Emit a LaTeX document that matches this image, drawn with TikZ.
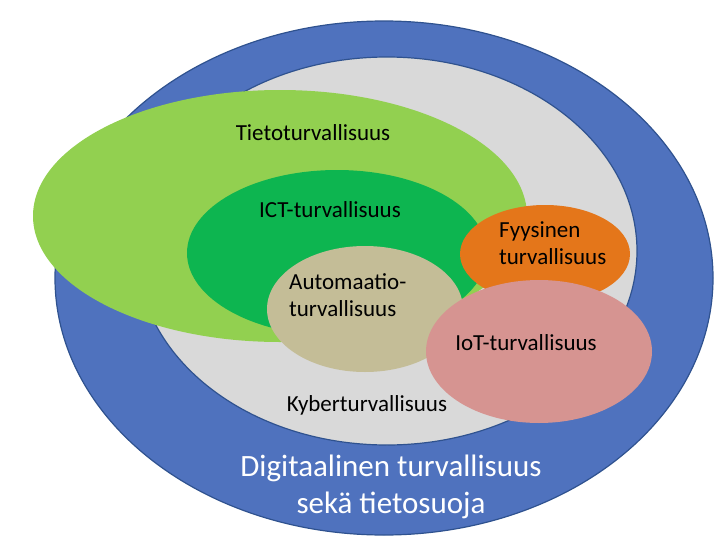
\documentclass[tikz,border=0pt]{standalone}
\usepackage{fontspec}
\setmainfont{Carlito}
\definecolor{bandblue}{HTML}{4F72BE}
\definecolor{edgeblue}{HTML}{2F528F}
\definecolor{cybergray}{HTML}{D9D9D9}
\definecolor{lightgreen}{HTML}{92D050}
\definecolor{darkgreen}{HTML}{0DB550}
\definecolor{tan}{HTML}{C4BD97}
\definecolor{orangef}{HTML}{E4761A}
\definecolor{pinkf}{HTML}{D69491}
\begin{document}
\begin{tikzpicture}[x=1pt,y=-1pt,
  lbl/.style={font=\fontsize{23}{27}\selectfont,text=black,inner sep=0pt},
  big/.style={font=\fontsize{31}{37}\selectfont,text=white,inner sep=0pt,align=center}]
\useasboundingbox (0,0) rectangle (728,538);
% outer blue
\fill[bandblue,draw=edgeblue,line width=1.2pt] (384,278) ellipse [x radius=329,y radius=257];
% gray
\fill[cybergray,draw=edgeblue,line width=1.2pt] (387,251) ellipse [x radius=250,y radius=194];
% light green
\fill[lightgreen] (280,216) ellipse [x radius=247,y radius=126];
% dark green
\fill[darkgreen] (337,253) ellipse [x radius=150,y radius=83];
% tan
\fill[tan] (365,309) ellipse [x radius=98,y radius=63];
% orange
\fill[orangef] (545,254) ellipse [x radius=85,y radius=49];
% pink
\fill[pinkf] (539,351.5) ellipse [x radius=113,y radius=71.5];
% labels
\node[lbl] (tieto) at (313,133) {Tietoturvallisuus};
\node[lbl] (ict) at (330,210) {ICT-turvallisuus};
\node[lbl,anchor=west,align=left] (auto) at (289,295) {Automaatio-\\turvallisuus};
\node[lbl,anchor=west,align=left] (fyys) at (499,243) {Fyysinen\\turvallisuus};
\node[lbl] (iot) at (526,343) {IoT-turvallisuus};
\node[lbl] (kyber) at (367,405) {Kyberturvallisuus};
\node[big] (digi) at (391,487) {Digitaalinen turvallisuus\\sekä tietosuoja};
\end{tikzpicture}
\end{document}
